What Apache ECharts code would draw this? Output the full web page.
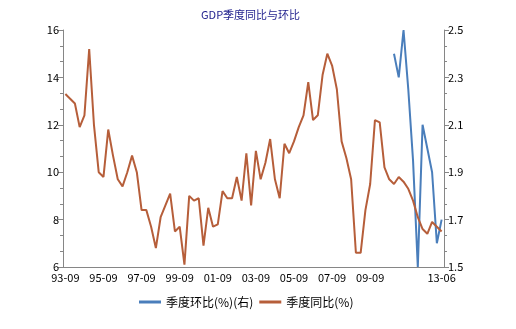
<!DOCTYPE html>
<html><head><meta charset="utf-8">
<script src="https://cdn.jsdelivr.net/npm/echarts@6/dist/echarts.min.js"></script>
<style>html,body{margin:0;padding:0;background:#fff}#c{width:516px;height:329px}</style>
</head><body><div id="c"></div>
<script>
// quarterly categories 1993-09 .. 2013-06
var categories = [];
(function(){var y=1993,m=9;for(var i=0;i<80;i++){categories.push(String(y%100).padStart(2,'0')+'-'+String(m).padStart(2,'0'));m+=3;if(m>12){m-=12;y++;}}})();

var yoyValues = [13.3,13.1,12.9,11.9,12.4,15.2,12.0,10.0,9.8,11.8,
  10.7,9.7,9.4,10.0,10.7,10.0,8.4,8.4,7.7,6.8,
  8.1,8.6,9.1,7.5,7.7,6.1,9.0,8.8,8.9,6.9,
  8.5,7.7,7.8,9.2,8.9,8.9,9.8,8.8,10.8,8.6,
  10.9,9.7,10.4,11.4,9.7,8.9,11.2,10.8,11.3,11.9,
  12.4,13.8,12.2,12.4,14.1,15.0,14.5,13.5,11.3,10.6,
  9.7,6.6,6.6,8.4,9.5,12.2,12.1,10.2,9.7,9.5,
  9.8,9.6,9.3,8.8,8.1,7.6,7.4,7.9,7.7,7.5];

var qoqValues = [];
for (var i=0;i<69;i++) qoqValues.push(null);
qoqValues = qoqValues.concat([2.4,2.3,2.5,2.25,1.95,1.5,2.1,2.0,1.9,1.6,1.7]);

var leftTicks = {min:6,max:16,interval:2};
var rightTicks = {min:1.5,max:2.5,interval:0.2};
var nameQoq = '季度环比(%)(右)';
var nameYoy = '季度同比(%)';

function showIdx(i){ return (i%8===0 && i<=64) || i===79; }
var font = '"Noto Sans CJK SC","Noto Sans",sans-serif';
var axisColor = '#868686';

var chart = echarts.init(document.getElementById('c'));
chart.setOption({
  animation:false,
  title:{text:'GDP季度同比与环比',left:196,top:4,textStyle:{fontSize:11,fontWeight:'normal',color:'#1e1e8c',fontFamily:font}},
  legend:{data:[{name:nameQoq,icon:'rect'},{name:nameYoy,icon:'rect'}],top:291,left:134,itemWidth:22,itemHeight:3,itemGap:6,
    textStyle:{fontSize:12,color:'#000',fontFamily:font}},
  grid:{left:63,right:72,top:30,bottom:62},
  xAxis:{type:'category',data:categories,boundaryGap:true,
    axisLine:{lineStyle:{color:axisColor,width:1}},
    axisTick:{alignWithLabel:true,interval:function(i){return showIdx(i);},length:5,lineStyle:{color:axisColor}},
    axisLabel:{interval:function(i){return showIdx(i);},color:'#000',fontSize:11,fontFamily:font,margin:5}
  },
  yAxis:[
    {type:'value',min:leftTicks.min,max:leftTicks.max,interval:leftTicks.interval,position:'left',
     axisLine:{show:true,lineStyle:{color:axisColor}},
     axisTick:{show:true,length:5,lineStyle:{color:axisColor}},
     minorTick:{show:true,splitNumber:3,length:3,lineStyle:{color:axisColor}},
     splitLine:{show:false},
     axisLabel:{color:'#000',fontSize:11,fontFamily:font,margin:4}},
    {type:'value',min:rightTicks.min,max:rightTicks.max,interval:rightTicks.interval,position:'right',
     axisLine:{show:true,lineStyle:{color:axisColor}},
     axisTick:{show:true,length:5,lineStyle:{color:axisColor}},
     minorTick:{show:true,splitNumber:3,length:3,lineStyle:{color:axisColor}},
     splitLine:{show:false},
     axisLabel:{color:'#000',fontSize:11,fontFamily:font,margin:4,formatter:function(v){return v.toFixed(1);}}}
  ],
  series:[
    {name:nameQoq,type:'line',yAxisIndex:1,data:qoqValues,symbol:'none',connectNulls:false,
     lineStyle:{color:'#4a7ebb',width:2},itemStyle:{color:'#4a7ebb'}},
    {name:nameYoy,type:'line',yAxisIndex:0,data:yoyValues,symbol:'none',
     lineStyle:{color:'#b65e3a',width:2},itemStyle:{color:'#b65e3a'}}
  ]
});
</script></body></html>
